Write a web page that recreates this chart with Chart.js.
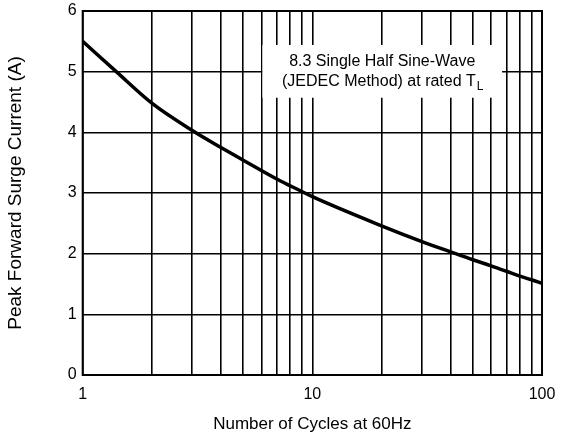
<!DOCTYPE html>
<html>
<head>
<meta charset="utf-8">
<script src="https://cdn.jsdelivr.net/npm/chart.js@4"></script>
<style>
  html, body { margin: 0; padding: 0; background: #fff; }
  #wrap { width: 569px; height: 445px; }
</style>
</head>
<body>
<div id="wrap"><canvas id="surgeChart"></canvas></div>
<script>
const cycles = [1, 1.4, 2, 3, 4, 5, 6, 7, 8, 9, 10, 20, 30, 40, 50, 60, 70, 80, 90, 100];
const surgeCurrent = [5.5, 5.0, 4.48, 4.03, 3.75, 3.54, 3.37, 3.23, 3.12, 3.025, 2.94, 2.46, 2.2, 2.03, 1.9, 1.8, 1.71, 1.63, 1.57, 1.51];
const xTicks = [1, 2, 3, 4, 5, 6, 7, 8, 9, 10, 20, 30, 40, 50, 60, 70, 80, 90, 100];
const xLabels = [1, 10, 100];
const yTicks = [0, 1, 2, 3, 4, 5, 6];
const noteLines = ['8.3 Single Half Sine-Wave', '(JEDEC Method) at rated T'];
const noteSub = 'L';

const fontFamily = '"Liberation Sans", Arial, sans-serif';

// white label box sitting on top of the grid
const notePlugin = {
  id: 'note',
  beforeDatasetsDraw(chart) {
    const { ctx, scales: { x, y } } = chart;
    const left = x.getPixelForValue(6) + 1;
    const right = x.getPixelForValue(67);
    const top = y.getPixelForValue(5.44);
    const bottom = y.getPixelForValue(4.57);
    ctx.save();
    ctx.fillStyle = '#fff';
    ctx.fillRect(left, top, right - left, bottom - top);
    const cx = (left + right) / 2;
    ctx.fillStyle = '#000';
    ctx.textBaseline = 'middle';
    ctx.font = '16px ' + fontFamily;
    ctx.textAlign = 'center';
    ctx.fillText(noteLines[0], cx, top + 17);
    // second line with subscript
    const w1 = ctx.measureText(noteLines[1]).width;
    ctx.font = '12px ' + fontFamily;
    const w2 = ctx.measureText(noteSub).width;
    const start = cx - (w1 + w2) / 2;
    ctx.textAlign = 'left';
    ctx.font = '16px ' + fontFamily;
    ctx.fillText(noteLines[1], start, top + 37);
    ctx.font = '12px ' + fontFamily;
    ctx.fillText(noteSub, start + w1 + 1, top + 42);
    ctx.restore();
  },
  afterDraw(chart) {
    const { ctx, chartArea: a } = chart;
    ctx.save();
    ctx.strokeStyle = '#000';
    ctx.lineWidth = 2;
    ctx.strokeRect(a.left, a.top, a.right - a.left, a.bottom - a.top);
    ctx.restore();
  }
};

const ctx = document.getElementById('surgeChart').getContext('2d');
const surgeChart = new Chart(ctx, {
  type: 'line',
  data: {
    datasets: [{
      data: cycles.map((c, i) => ({ x: c, y: surgeCurrent[i] })),
      borderColor: '#000',
      borderWidth: 3.5,
      pointRadius: 0,
      cubicInterpolationMode: 'monotone',
      fill: false
    }]
  },
  options: {
    responsive: true,
    maintainAspectRatio: false,
    animation: false,
    devicePixelRatio: 1,
    layout: { padding: { top: 11, right: 27, bottom: 0, left: 0 } },
    plugins: { legend: { display: false }, tooltip: { enabled: false } },
    scales: {
      x: {
        type: 'logarithmic',
        min: 1,
        max: 100,
        afterBuildTicks: scale => { scale.ticks = xTicks.map(v => ({ value: v })); },
        afterFit: scale => { scale.height = 70; },
        ticks: {
          autoSkip: false,
          maxRotation: 0,
          padding: 10,
          color: '#000',
          font: { size: 16, family: fontFamily },
          callback: v => (xLabels.includes(v) ? String(v) : '')
        },
        grid: { color: '#000', lineWidth: 1.6, drawTicks: false },
        border: { display: false },
        title: {
          display: true,
          text: 'Number of Cycles at 60Hz',
          color: '#000',
          font: { size: 17, family: fontFamily },
          padding: { top: 7, bottom: 10 }
        }
      },
      y: {
        min: 0,
        max: 6,
        afterBuildTicks: scale => { scale.ticks = yTicks.map(v => ({ value: v })); },
        afterFit: scale => { scale.paddingTop = 0; scale.paddingBottom = 0; },
        ticks: {
          padding: 6,
          color: '#000',
          font: { size: 16, family: fontFamily }
        },
        grid: { color: '#000', lineWidth: 1.6, drawTicks: false },
        border: { display: false },
        title: {
          display: true,
          text: 'Peak Forward Surge Current (A)',
          color: '#000',
          font: { size: 19, family: fontFamily },
          padding: { top: 4, bottom: 35 }
        }
      }
    }
  },
  plugins: [notePlugin]
});
</script>
</body>
</html>
